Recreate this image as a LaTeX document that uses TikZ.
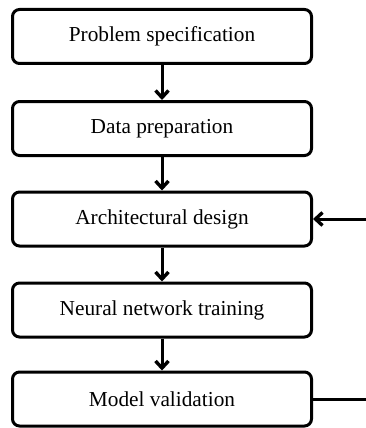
\documentclass[tikz,border=0pt]{standalone}
\usepackage{fontspec}
\setmainfont{Liberation Serif}
\usepackage{tikz}
\usetikzlibrary{arrows.meta}

\tikzset{stagebox/.style={draw,rounded corners=7pt,line width=3pt,minimum width=299pt,minimum height=54pt,font=\fontsize{21.3}{25}\selectfont},
  flow/.style={-{Straight Barb[length=7pt,width=13pt,line width=3.4pt]},line width=3pt}}

\begin{document}
\begin{tikzpicture}
\useasboundingbox (0pt,0pt) rectangle (365pt,-428pt);

\node (spec) at (162pt,-36.5pt)[stagebox] {Problem specification};
\node (data) at (162pt,-128.5pt)[stagebox] {Data preparation};
\node (arch) at (162pt,-219pt)[stagebox] {Architectural design};
\node (train) at (162pt,-310pt)[stagebox] {Neural network training};
\node (valid) at (162pt,-399pt)[stagebox] {Model validation};
\coordinate (fbin) at (366pt,-219pt);
\coordinate (fbout) at (366pt,-399pt);

\draw [flow] (spec) to (data);
\draw [flow] (data) to (arch);
\draw [flow] (arch) to (train);
\draw [flow] (train) to (valid);
\draw [flow] (fbin) to (arch);
\draw [line width=3pt] (valid) to (fbout);
\end{tikzpicture}
\end{document}
